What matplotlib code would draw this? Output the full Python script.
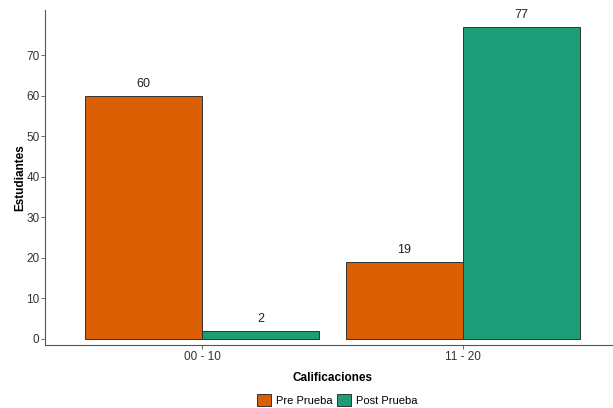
import matplotlib
matplotlib.use("Agg")
import matplotlib.pyplot as plt
import numpy as np

categories = ["00 - 10", "11 - 20"]
series_names = ["Pre Prueba", "Post Prueba"]
pre_values = [60, 19]
post_values = [2, 77]
colors = ["#D95F02", "#1B9E77"]
yticks = [0, 10, 20, 30, 40, 50, 60, 70]

plt.rcParams['font.family'] = ['Liberation Sans', 'DejaVu Sans']

fig = plt.figure(figsize=(6.13, 4.08), dpi=100)
ax = fig.add_axes([45.4/613, 63/408, 574.2/613, 335/408])

x = np.arange(1, len(categories) + 1)
w = 0.45
handles = []
for i, (vals, name) in enumerate(zip([pre_values, post_values], series_names)):
    pos = x + (i - 0.5) * w
    b = ax.bar(pos, vals, width=w, color=colors[i], edgecolor="#333333", linewidth=0.7, label=name)
    handles.append(b)
    for p, v in zip(pos, vals):
        ax.annotate(str(v), (p, v), xytext=(0, 4), textcoords="offset points",
                    ha="center", va="bottom", fontsize=9, color="#222222")

ax.set_xlim(0.4, 2.6)
ax.set_ylim(-1.48, 81.1)
ax.set_xticks(x)
ax.set_xticklabels(categories)
ax.set_yticks(yticks)
ax.tick_params(axis="both", labelsize=8.5, labelcolor="#333333", color="#555555",
               length=3, width=0.6, pad=1.2)
for s in ["top", "right"]:
    ax.spines[s].set_visible(False)
for s in ["left", "bottom"]:
    ax.spines[s].set_color("#555555")
    ax.spines[s].set_linewidth(0.8)
ax.set_xlabel("Calificaciones", fontsize=8.5, fontweight="bold", labelpad=6.5)
ax.set_ylabel("Estudiantes", fontsize=8.5, fontweight="bold", labelpad=0)

fig.legend(handles=handles, labels=series_names, loc="center", bbox_to_anchor=(337/613, 1 - 400/408),
           ncol=2, frameon=False, fontsize=8, handlelength=1.3, handleheight=1.3,
           handletextpad=0.4, columnspacing=0.4)

fig.savefig("out.png", dpi=100)
